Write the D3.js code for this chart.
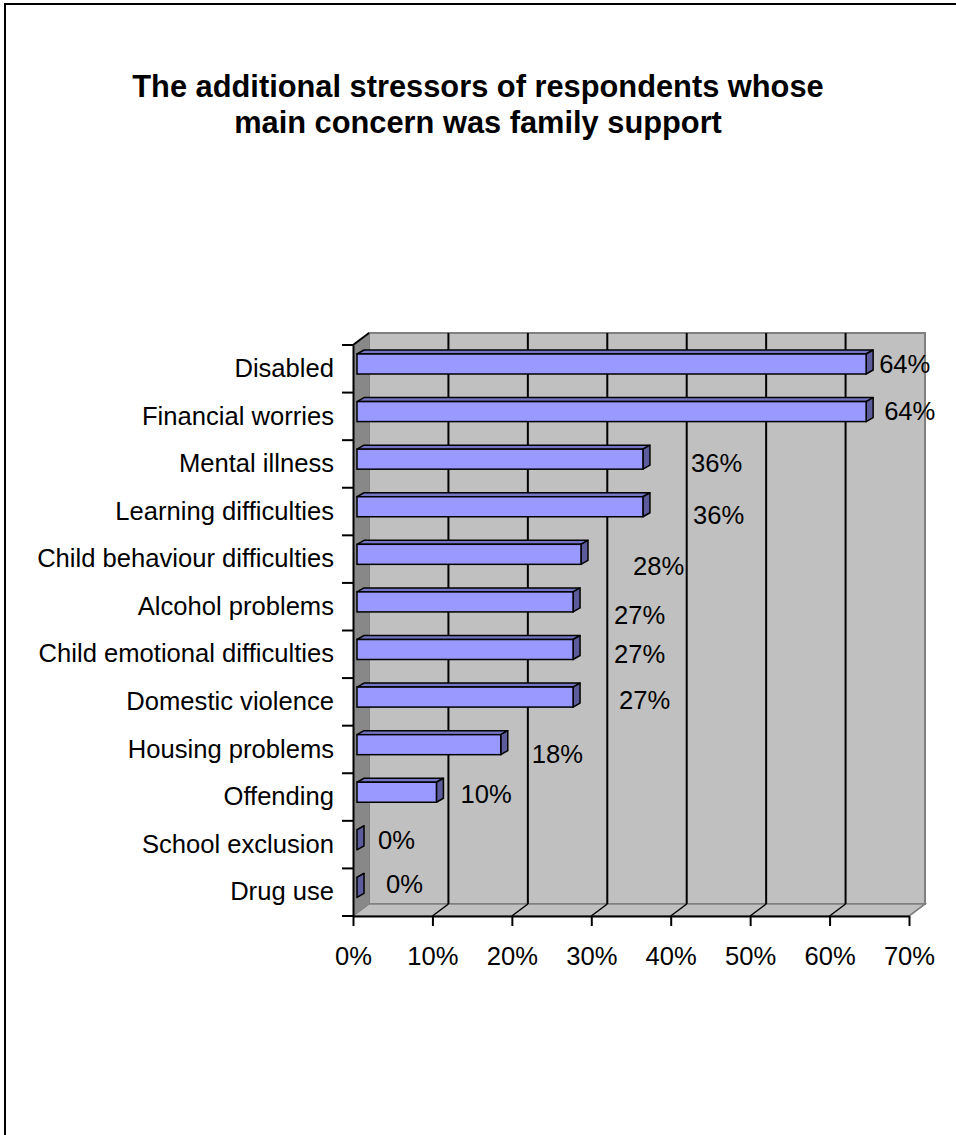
<!DOCTYPE html>
<html>
<head>
<meta charset="utf-8">
<script src="https://cdn.jsdelivr.net/npm/d3@7"></script>
<style>
  html, body { margin: 0; padding: 0; background: #ffffff; }
  svg { display: block; }
  text { font-family: "Liberation Sans", Arial, sans-serif; fill: #000; }
</style>
</head>
<body>
<svg id="chart" width="956" height="1135"></svg>
<script>
// ---- Data ----
const titleLines = ["The additional stressors of respondents whose", "main concern was family support"];
const categories = [
  "Disabled", "Financial worries", "Mental illness", "Learning difficulties",
  "Child behaviour difficulties", "Alcohol problems", "Child emotional difficulties",
  "Domestic violence", "Housing problems", "Offending", "School exclusion", "Drug use"
];
const values = [64.1, 64.1, 36, 36, 28.2, 27.2, 27.2, 27.2, 18.1, 10, 0, 0];
const valueLabels = ["64%", "64%", "36%", "36%", "28%", "27%", "27%", "27%", "18%", "10%", "0%", "0%"];
const xTicks = [0, 10, 20, 30, 40, 50, 60, 70];

// ---- Layout (not data) ----
// data-label nudges relative to the bar end: [dx, baseline offset from band top]
const labelNudge = [[13,28],[18,27.4],[48,31.5],[50,36.5],[52,39.6],[41,41.3],[41,32.1],[46,30.5],[31,37.5],[24,29.3],[21,28.3],[29,24.1]];

const svg = d3.select("#chart");
const FRONT_LEFT = 353, FRONT_RIGHT = 909, TOP = 345, BOTTOM = 916;
const DX = 16, DY = -12;          // wall depth
const BOFF_X = 4, BOFF_Y = -3;    // bar offset into depth
const BDX = 7, BDY = -4;          // bar depth
const BAR_H = 20;
const FS = "25.6px";

const x = d3.scaleLinear().domain([0, 70]).range([FRONT_LEFT, FRONT_RIGHT]);
const y = d3.scaleBand().domain(categories).range([TOP, BOTTOM]).padding(0);
const yIdx = d3.scaleLinear().domain([0, categories.length]).range([TOP, BOTTOM]);

// outer frame
svg.append("rect").attr("x", 5).attr("y", 4).attr("width", 1000).attr("height", 1200)
  .attr("fill", "#fff").attr("stroke", "#000").attr("stroke-width", 2);

// title
svg.append("g").selectAll("text").data(titleLines).join("text")
  .attr("x", 478).attr("y", (d, i) => 97 + i * 36)
  .attr("text-anchor", "middle")
  .style("font-size", "30.8px").style("font-weight", "bold")
  .text(d => d);

const poly = pts => pts.map(p => p.join(",")).join(" ");

// back wall
svg.append("polygon")
  .attr("points", poly([[FRONT_LEFT+DX, TOP+DY],[FRONT_RIGHT+DX, TOP+DY],[FRONT_RIGHT+DX, BOTTOM+DY],[FRONT_LEFT+DX, BOTTOM+DY]]))
  .attr("fill", "#c0c0c0").attr("stroke", "#808080").attr("stroke-width", 2);
// floor
svg.append("polygon")
  .attr("points", poly([[FRONT_LEFT, BOTTOM],[FRONT_RIGHT, BOTTOM],[FRONT_RIGHT+DX, BOTTOM+DY],[FRONT_LEFT+DX, BOTTOM+DY]]))
  .attr("fill", "#c0c0c0").attr("stroke", "#808080").attr("stroke-width", 1.5);
// left wall
svg.append("polygon")
  .attr("points", poly([[FRONT_LEFT, TOP],[FRONT_LEFT+DX, TOP+DY],[FRONT_LEFT+DX, BOTTOM+DY],[FRONT_LEFT, BOTTOM]]))
  .attr("fill", "#888888").attr("stroke", "none");
svg.append("line")
  .attr("x1", FRONT_LEFT).attr("y1", TOP).attr("x2", FRONT_LEFT+DX).attr("y2", TOP+DY)
  .attr("stroke", "#000").attr("stroke-width", 2);

// gridlines on back wall and floor
const grid = svg.append("g");
xTicks.filter(t => t > 0 && t < 70).forEach(t => {
  grid.append("line").attr("x1", x(t)+DX).attr("x2", x(t)+DX)
    .attr("y1", TOP+DY).attr("y2", BOTTOM+DY).attr("stroke", "#000").attr("stroke-width", 2);
});
xTicks.filter(t => t > 0).forEach(t => {
  grid.append("line").attr("x1", x(t)).attr("y1", BOTTOM)
    .attr("x2", x(t)+DX).attr("y2", BOTTOM+DY)
    .attr("stroke", t === 70 ? "#808080" : "#000").attr("stroke-width", 1.5);
});

// bars
const bars = svg.append("g").selectAll("g").data(categories).join("g");
bars.each(function(c, i) {
  const g = d3.select(this);
  const x0 = x(0) + BOFF_X, x1 = x(values[i]) + BOFF_X;
  const y0 = y(c) + 9;
  g.append("polygon").attr("points", poly([[x0,y0],[x0+BDX,y0+BDY],[x1+BDX,y0+BDY],[x1,y0]]))
    .attr("fill", "#7474c4").attr("stroke", "#000").attr("stroke-width", 1.5).attr("stroke-linejoin", "round");
  g.append("polygon").attr("points", poly([[x1,y0],[x1+BDX,y0+BDY],[x1+BDX,y0+BDY+BAR_H],[x1,y0+BAR_H]]))
    .attr("fill", "#5c5c9c").attr("stroke", "#000").attr("stroke-width", 1.5).attr("stroke-linejoin", "round");
  if (x1 > x0) {
    g.append("rect").attr("x", x0).attr("y", y0).attr("width", x1 - x0).attr("height", BAR_H)
      .attr("fill", "#9999ff").attr("stroke", "#000").attr("stroke-width", 1.5);
  }
  g.append("text")
    .attr("x", x1 + labelNudge[i][0])
    .attr("y", y(c) + labelNudge[i][1])
    .style("font-size", FS)
    .text(valueLabels[i]);
});

// bottom axis
const xAxis = svg.append("g").attr("transform", `translate(0,${BOTTOM})`)
  .call(d3.axisBottom(x).tickValues(xTicks).tickFormat(d => d + "%").tickSize(10).tickPadding(21).tickSizeOuter(0));
xAxis.select(".domain").attr("stroke", "#000").attr("stroke-width", 2);
xAxis.selectAll(".tick line").attr("stroke", "#000").attr("stroke-width", 2);
xAxis.selectAll("text").style("font-size", FS).attr("fill", "#000");

// left axis
const yAxis = svg.append("g").attr("transform", `translate(${FRONT_LEFT},0)`)
  .call(d3.axisLeft(y).tickSize(0).tickPadding(19));
yAxis.select(".domain").attr("stroke", "#000").attr("stroke-width", 2);
yAxis.selectAll("text").style("font-size", FS).attr("fill", "#000");
svg.append("g").selectAll("line").data(d3.range(categories.length + 1)).join("line")
  .attr("x1", FRONT_LEFT - 11).attr("x2", FRONT_LEFT)
  .attr("y1", d => yIdx(d)).attr("y2", d => yIdx(d))
  .attr("stroke", "#000").attr("stroke-width", 2);
</script>
</body>
</html>
